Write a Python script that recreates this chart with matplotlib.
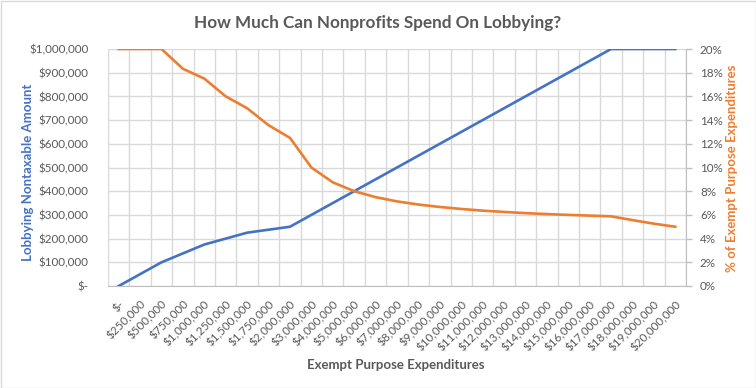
import numpy as np
import matplotlib
matplotlib.use("Agg")
import matplotlib.pyplot as plt
from matplotlib.patches import Rectangle
from matplotlib.ticker import FuncFormatter

plt.rcParams['font.family'] = ['Lato', 'DejaVu Sans']

categories = ["$-", "$250,000", "$500,000", "$750,000", "$1,000,000", "$1,250,000",
              "$1,500,000", "$1,750,000", "$2,000,000", "$3,000,000", "$4,000,000",
              "$5,000,000", "$6,000,000", "$7,000,000", "$8,000,000", "$9,000,000",
              "$10,000,000", "$11,000,000", "$12,000,000", "$13,000,000", "$14,000,000",
              "$15,000,000", "$16,000,000", "$17,000,000", "$18,000,000", "$19,000,000",
              "$20,000,000"]
nontaxable = [0, 50000, 100000, 137500, 175000, 200000, 225000, 237500, 250000,
              300000, 350000, 400000, 450000, 500000, 550000, 600000, 650000, 700000,
              750000, 800000, 850000, 900000, 950000, 1000000, 1000000, 1000000, 1000000]
pct = [0.20, 0.20, 0.20, 0.1833, 0.175, 0.16, 0.15, 0.1357, 0.125, 0.10, 0.0875,
       0.08, 0.075, 0.0714, 0.06875, 0.0667, 0.065, 0.0636, 0.0625, 0.0615, 0.0607,
       0.06, 0.0594, 0.0588, 0.0556, 0.0526, 0.05]

BLUE = '#4472C4'
ORANGE = '#ED7D31'
GRAY = '#595959'
GRID = '#D9D9D9'
AX = '#BFBFBF'

W, H = 756, 388
fig = plt.figure(figsize=(W/100, H/100), dpi=100)
fig.patches.append(Rectangle((0.5/W, 0.5/H), 1-1/W, 1-1/H, transform=fig.transFigure,
                             fill=False, edgecolor=GRID, lw=1))

L, R, T, B = 108, 686, 49, 286
ax = fig.add_axes([L/W, (H-B)/H, (R-L)/W, (B-T)/H])
x = np.arange(len(categories))
ax.set_xlim(-0.5, len(categories)-0.5)
ax.set_ylim(0, 1000000)
ax.set_yticks(np.arange(0, 1000001, 100000))

def money(v, p):
    return "$-" if v == 0 else "${:,.0f}".format(v)
ax.yaxis.set_major_formatter(FuncFormatter(money))
ax.set_xticks(x)
ax.set_xticklabels(categories, rotation=45, ha='right', va='top', rotation_mode='anchor')
ax.set_xticks(np.arange(-0.5, len(categories), 1), minor=True)
ax.grid(which='minor', axis='x', color=GRID, lw=1)
ax.grid(which='major', axis='y', color=GRID, lw=1)
ax.set_axisbelow(True)
ax.tick_params(axis='x', which='both', length=0, pad=9, labelsize=8.4, labelcolor=GRAY)
ax.tick_params(axis='y', length=0, pad=14, labelsize=8.4, labelcolor=GRAY)
for s in ['top', 'left', 'right']:
    ax.spines[s].set_visible(False)
ax.spines['bottom'].set_color(AX)

ax.plot(x, nontaxable, color=BLUE, lw=1.9, zorder=3)

ax2 = ax.twinx()
ax2.set_ylim(0, 0.20)
ax2.set_yticks(np.arange(0, 0.2001, 0.02))
ax2.yaxis.set_major_formatter(FuncFormatter(lambda v, p: "{:.0f}%".format(v*100)))
ax2.tick_params(axis='y', length=4, width=1, color=AX, pad=6, labelsize=8.4, labelcolor=GRAY)
for s in ['top', 'left', 'bottom']:
    ax2.spines[s].set_visible(False)
ax2.spines['right'].set_color(AX)
ax2.plot(x, pct, color=ORANGE, lw=1.9, zorder=3)

fig.text(378/W, 1-23/H, "How Much Can Nonprofits Spend On Lobbying?", ha='center', va='center',
         fontsize=12.3, fontweight='bold', color=GRAY)
fig.text(28/W, 1-172/H, "Lobbying Nontaxable Amount", rotation=90, ha='center', va='center',
         fontsize=9.5, fontweight='bold', color=BLUE)
fig.text(732/W, 1-168/H, "% of Exempt Purpose Expenditures", rotation=90, ha='center', va='center',
         fontsize=9.5, fontweight='bold', color=ORANGE)
fig.text(396/W, 1-365/H, "Exempt Purpose Expenditures", ha='center', va='center',
         fontsize=9.5, fontweight='bold', color=GRAY)

fig.savefig("out.png", dpi=100)
